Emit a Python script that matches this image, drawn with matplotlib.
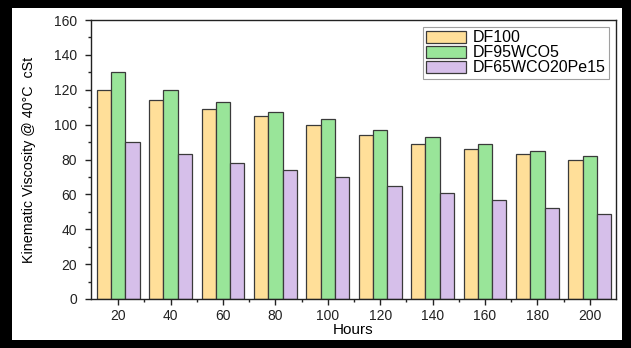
import numpy as np
import matplotlib
matplotlib.use("Agg")
import matplotlib.pyplot as plt
from matplotlib.patches import Rectangle
from matplotlib.ticker import MultipleLocator

plt.rcParams['font.family'] = ['Liberation Sans', 'DejaVu Sans']

hours = [20, 40, 60, 80, 100, 120, 140, 160, 180, 200]
df100 = [120, 114, 109, 105, 100, 94, 89, 86, 83, 80]
df95wco5 = [130, 120, 113, 107, 103, 97, 93, 89, 85, 82]
df65wco20pe15 = [90, 83, 78, 74, 70, 65, 61, 57, 52, 49]

series = [("DF100", df100, "#ffdf99"),
          ("DF95WCO5", df95wco5, "#99e599"),
          ("DF65WCO20Pe15", df65wco20pe15, "#d6bfea")]

fig = plt.figure(figsize=(6.31, 3.48), dpi=100, facecolor="black")
# white page inside the black frame
fig.patches.append(Rectangle((12 / 631, 8 / 348), 610 / 631, 332 / 348,
                             transform=fig.transFigure, facecolor="white",
                             edgecolor="none", zorder=-10))
ax = fig.add_axes([91 / 631, 1 - 299 / 348, 525 / 631, 279 / 348])

x = np.arange(len(hours))
w = 0.273
for i, (name, vals, col) in enumerate(series):
    ax.bar(x + (i - 1) * w, vals, w, color=col, edgecolor="#3a3a3a",
           linewidth=0.9, label=name)

ax.set_xlim(-0.52, len(hours) - 0.5)
ax.set_ylim(0, 160)
ax.set_xticks(x)
ax.set_xticklabels([str(h) for h in hours])
ax.set_xticks(x[:-1] + 0.5, minor=True)
ax.yaxis.set_major_locator(MultipleLocator(20))
ax.yaxis.set_minor_locator(MultipleLocator(10))
ax.tick_params(axis="both", which="major", labelsize=10, length=4,
               width=1, direction="out", colors="#222222")
ax.tick_params(axis="y", which="major", pad=6)
ax.tick_params(axis="both", which="minor", length=2, width=1,
               direction="out", colors="#222222")
for s in ax.spines.values():
    s.set_linewidth(1)
    s.set_color("#222222")

ax.set_ylabel("Kinematic Viscosity @ 40°C  cSt", fontsize=10.3, labelpad=13)
ax.set_xlabel("Hours", fontsize=11, labelpad=0)

leg = ax.legend(loc="upper right", fontsize=11.5, frameon=True, fancybox=False,
                borderpad=0.2, labelspacing=0.0, handlelength=2.5,
                handleheight=0.8, handletextpad=0.4, borderaxespad=0.45)
leg.get_frame().set_edgecolor("#888888")
leg.get_frame().set_linewidth(0.8)

fig.savefig("out.png", dpi=100, facecolor=fig.get_facecolor())
